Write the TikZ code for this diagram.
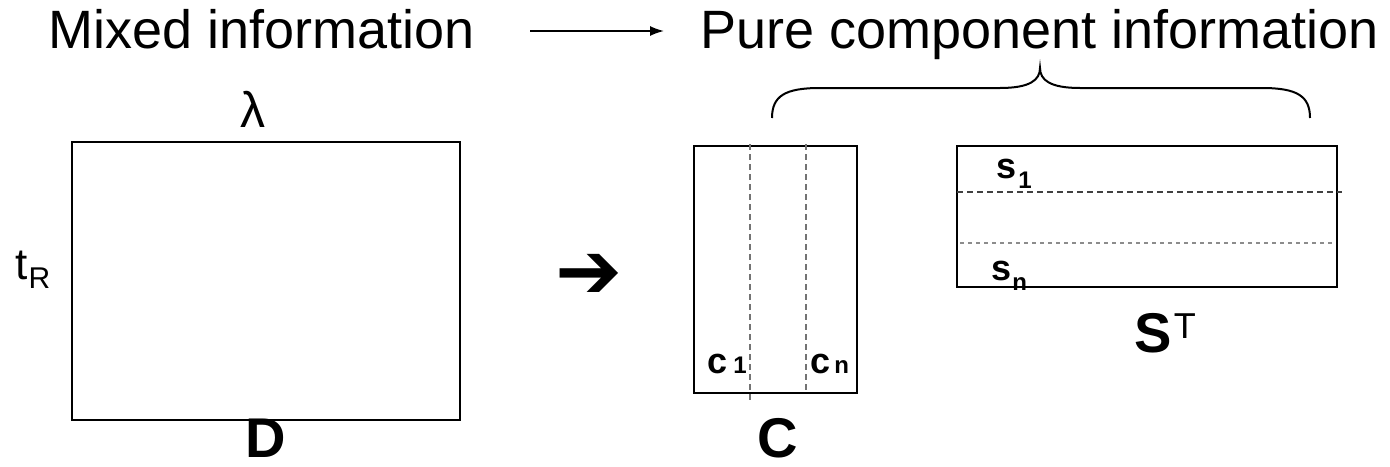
\documentclass[tikz,border=0pt]{standalone}
\usepackage{fontspec}
\usetikzlibrary{arrows.meta}
\setmainfont{Liberation Sans}
\newfontfamily\dejavu{DejaVu Sans}
\tikzset{
  mat/.style={draw=black, line width=1pt},
  gdash/.style={draw=black!55, line width=0.6pt, dash pattern=on 3pt off 2pt},
  title/.style={font=\fontsize{27}{32}\selectfont, inner sep=0pt},
  big/.style={font=\fontsize{28}{32}\selectfont\bfseries, inner sep=0pt},
  small/.style={font=\fontsize{18}{20}\selectfont\bfseries, inner sep=0pt},
}
\newcommand{\subc}[1]{{\fontsize{12}{14}\selectfont #1}}
\newcommand{\subs}[1]{\raisebox{-5pt}{\fontsize{12}{14}\selectfont #1}}
\begin{document}
\begin{tikzpicture}[x=0.5pt,y=-0.5pt]
\useasboundingbox (0,0) rectangle (1390,466);
% titles
\node[title, anchor=base west] (mixed) at (48,48) {Mixed information};
\node[title, anchor=base west] (pure) at (700,48) {Pure component information};
\coordinate (a1) at (530,31);
\coordinate (a2) at (664,31);
\draw[line width=0.8pt, -{Latex[length=7pt,width=5pt]}] (a1) -- (a2);
% brace
\draw[line width=1pt] (772,118) .. controls (772,96) and (785,88) .. (820,88) -- (1000,88)
  .. controls (1030,88) and (1040,80) .. (1040,68)
  .. controls (1040,80) and (1050,88) .. (1080,88) -- (1262,88)
  .. controls (1297,88) and (1310,96) .. (1310,118);
% D matrix
\node[mat, minimum width=194pt, minimum height=139pt, inner sep=0pt] (D) at (266,281) {};
\node[font=\fontsize{25}{30}\selectfont, inner sep=0pt, anchor=base] (lam) at (253,127) {λ};
\node[font=\fontsize{22}{26}\selectfont, inner sep=0pt, anchor=base west] (tR) at (15,279) {t\kern0.5pt\raisebox{-4.5pt}{\fontsize{15}{17}\selectfont R}};
\node[big, anchor=base] (Dl) at (266,457) {D};
% big arrow
\node[font=\dejavu\fontsize{40}{44}\selectfont, inner sep=0pt] (arr) at (589,276) {➔};
% C matrix
\node[mat, minimum width=81.5pt, minimum height=123.5pt, inner sep=0pt] (C) at (775.5,269.5) {};
\coordinate (c1t) at (750,144);
\coordinate (c1b) at (750,400);
\coordinate (cnt) at (806,144);
\coordinate (cnb) at (806,393);
\draw[gdash] (c1t) -- (c1b);
\draw[gdash] (cnt) -- (cnb);
\node[small, anchor=base west] (c1) at (707,373) {c\kern3pt\subc{1}};
\node[small, anchor=base west] (cn) at (810,373) {c\kern2pt\subc{n}};
\node[big, anchor=base] (Cl) at (778,457) {C};
% S^T matrix
\node[mat, minimum width=190pt, minimum height=70.5pt, inner sep=0pt] (S) at (1147,216.5) {};
\coordinate (s1l) at (957,192);
\coordinate (s1r) at (1342,192);
\coordinate (snl) at (960,243);
\coordinate (snr) at (1335,243);
\draw[draw=black!75, line width=0.6pt, dash pattern=on 3pt off 2pt] (s1l) -- (s1r);
\draw[draw=black!45, line width=0.9pt, dash pattern=on 2pt off 2pt] (snl) -- (snr);
\node[small, anchor=base west] (s1) at (996,178) {s\kern1pt\subs{1}};
\node[small, anchor=base west] (sn) at (991,280) {s\kern0.5pt\subs{n}};
\node[big, anchor=base west] (Sl) at (1134,352) {S\kern1pt\raisebox{6.8pt}{\fontsize{18}{20}\selectfont\mdseries T}};
\end{tikzpicture}
\end{document}
